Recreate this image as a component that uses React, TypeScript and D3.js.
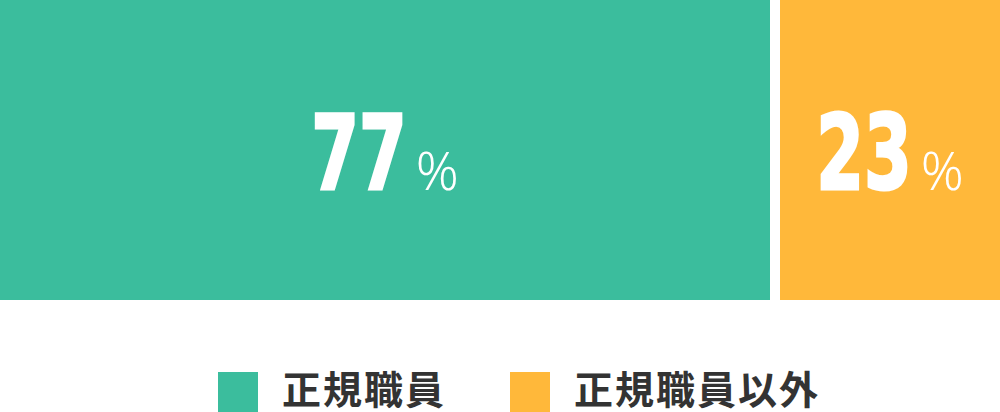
import React, { useEffect, useRef } from 'react';
import * as d3 from 'd3';

const categories = ['正規職員', '正規職員以外'];
const values = [77, 23];
const colors = ['#3bbd9d', '#ffb83a'];

export default function App() {
  const svgRef = useRef<SVGSVGElement>(null);

  useEffect(() => {
    if (!svgRef.current) return;

    const svg = d3.select(svgRef.current);
    svg.selectAll('*').remove();

    const width = 1000;
    const height = 412;
    const barHeight = 300;
    const gap = 10;
    const squeeze = 0.66; // condensed look for the big numbers

    svg.attr('width', width).attr('height', height);

    // X scale (percent)
    const xScale = d3.scaleLinear().domain([0, d3.sum(values)]).range([0, width]);

    let start = 0;
    values.forEach((v, i) => {
      const x0 = xScale(start) + (i > 0 ? gap : 0);
      const x1 = xScale(start + v);
      start += v;

      svg
        .append('rect')
        .attr('x', x0)
        .attr('y', 0)
        .attr('width', x1 - x0)
        .attr('height', barHeight)
        .attr('fill', colors[i]);

      // Value label: big number + small %
      const num = svg
        .append('text')
        .attr('fill', '#ffffff')
        .attr('stroke', '#ffffff')
        .attr('stroke-width', 3)
        .attr('stroke-linejoin', 'miter')
        .attr('font-family', '"DejaVu Sans", sans-serif')
        .attr('font-weight', 'bold')
        .attr('font-size', '104px')
        .text(String(v));

      const pct = svg
        .append('text')
        .attr('fill', '#ffffff')
        .attr('font-family', '"Noto Sans", sans-serif')
        .attr('font-weight', 300)
        .attr('font-size', '53px')
        .text('%');

      const numW = (num.node() as SVGTextElement).getComputedTextLength() * squeeze;
      const pctW = (pct.node() as SVGTextElement).getComputedTextLength();
      const space = 9;
      const left = (x0 + x1) / 2 - (numW + space + pctW) / 2;

      num.attr('transform', `translate(${left},${188.5}) scale(${squeeze},1)`);
      pct.attr('x', left + numW + space).attr('y', 189.5);
    });

    // Legend
    const legendX = [218, 510];
    categories.forEach((c, i) => {
      svg
        .append('rect')
        .attr('x', legendX[i])
        .attr('y', 372)
        .attr('width', 40)
        .attr('height', 40)
        .attr('fill', colors[i]);

      svg
        .append('text')
        .attr('x', legendX[i] + 64)
        .attr('y', 404)
        .attr('fill', '#333333')
        .attr('font-family', '"Noto Sans CJK JP", sans-serif')
        .attr('font-weight', 'bold')
        .attr('font-size', '39px')
        .attr('letter-spacing', '2px')
        .text(c);
    });
  }, []);

  return (
    <div>
      <style>{'body{margin:0}'}</style>
      <svg ref={svgRef} style={{ display: 'block' }}></svg>
    </div>
  );
}
